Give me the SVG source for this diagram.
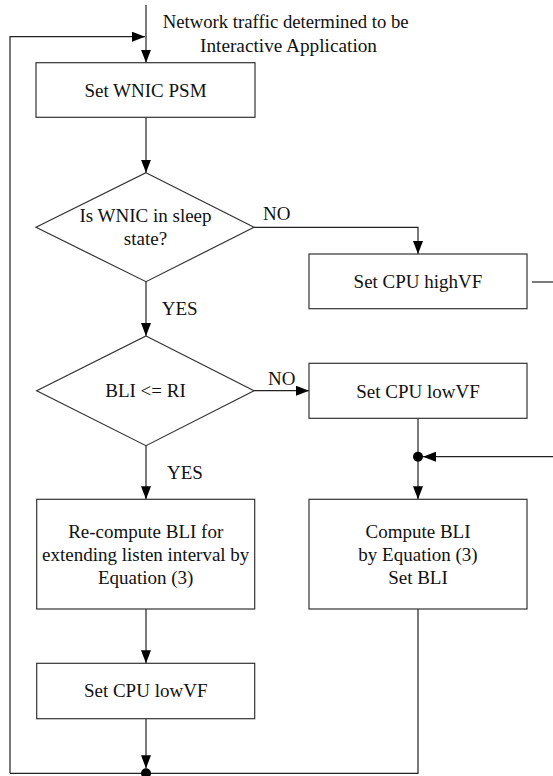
<svg xmlns="http://www.w3.org/2000/svg" width="553" height="776" viewBox="0 0 553 776">
<style>
.box{fill:#fff;stroke:#333;stroke-width:1.2}
.ln{fill:none;stroke:#222;stroke-width:1.2}
.t{font-family:"Liberation Serif","Times New Roman",serif;font-size:19px;fill:#111;text-anchor:middle}
.lbl{font-family:"Liberation Serif","Times New Roman",serif;font-size:19px;fill:#111}
.top{font-family:"Liberation Serif","Times New Roman",serif;font-size:19.5px;fill:#111}
.dot{fill:#000}
</style>
<defs>
<marker id="arr" markerUnits="userSpaceOnUse" markerWidth="13" markerHeight="10" refX="13" refY="5" orient="auto">
<path d="M0,0 L13,5 L0,10 z" fill="#000"/>
</marker>
</defs>
<g id="connectors">
<line class="ln" x1="146" y1="5" x2="146" y2="62.7" marker-end="url(#arr)"/>
<polyline class="ln" points="10,773.3 10,36.7 145,36.7" marker-end="url(#arr)"/>
<line class="ln" x1="146" y1="117.3" x2="146" y2="172.7" marker-end="url(#arr)"/>
<polyline class="ln" points="254,227.3 418,227.3 418,254" marker-end="url(#arr)"/>
<line class="ln" x1="532" y1="282" x2="553" y2="282"/>
<line class="ln" x1="146" y1="281.7" x2="146" y2="336" marker-end="url(#arr)"/>
<line class="ln" x1="254" y1="390.7" x2="309" y2="390.7" marker-end="url(#arr)"/>
<line class="ln" x1="418" y1="418.3" x2="418" y2="499.3" marker-end="url(#arr)"/>
<line class="ln" x1="553" y1="456.7" x2="423" y2="456.7" marker-end="url(#arr)"/>
<circle class="dot" cx="418" cy="456.7" r="5"/>
<line class="ln" x1="146" y1="445.7" x2="146" y2="499.3" marker-end="url(#arr)"/>
<line class="ln" x1="146" y1="609" x2="146" y2="663.3" marker-end="url(#arr)"/>
<line class="ln" x1="146" y1="718.7" x2="146" y2="768.3" marker-end="url(#arr)"/>
<polyline class="ln" points="418,609 418,773.3 10,773.3"/>
<circle class="dot" cx="146" cy="773.3" r="5"/>
</g>
<g id="start-label">
<text class="top" x="162.7" y="28.3" textLength="246" lengthAdjust="spacingAndGlyphs">Network traffic determined to be</text>
<text class="top" x="200" y="52.3" textLength="177" lengthAdjust="spacingAndGlyphs">Interactive Application</text>
</g>
<g id="set-wnic-psm">
<rect class="box" x="36" y="62.7" width="219" height="54.6"/>
<text class="t" x="145.5" y="96.7">Set WNIC PSM</text>
</g>
<g id="is-wnic-sleep">
<polygon class="box" points="146,172.7 254,227.3 146,281.7 36,227.3"/>
<text class="t" x="145.5" y="221.7">Is WNIC in sleep</text>
<text class="t" x="145.5" y="245">state?</text>
<text class="lbl" x="263" y="220">NO</text>
<text class="lbl" x="161.7" y="315">YES</text>
</g>
<g id="set-cpu-highvf">
<rect class="box" x="309" y="254" width="218" height="54.7"/>
<text class="t" x="418" y="288">Set CPU highVF</text>
</g>
<g id="bli-le-ri">
<polygon class="box" points="146,336 254,390.7 146,445.7 36.7,390.7"/>
<text class="t" x="145.5" y="396.7">BLI &lt;= RI</text>
<text class="lbl" x="268" y="385">NO</text>
<text class="lbl" x="167" y="479">YES</text>
</g>
<g id="set-cpu-lowvf-right">
<rect class="box" x="309" y="363.3" width="218" height="55"/>
<text class="t" x="418" y="397.7">Set CPU lowVF</text>
</g>
<g id="recompute-bli">
<rect class="box" x="36.7" y="499.3" width="218" height="109.7"/>
<text class="t" x="145.7" y="538.3">Re-compute BLI for</text>
<text class="t" x="145.7" y="561">extending listen interval by</text>
<text class="t" x="145.7" y="584">Equation (3)</text>
</g>
<g id="compute-bli">
<rect class="box" x="309" y="499.3" width="218" height="109.7"/>
<text class="t" x="418" y="538.3">Compute BLI</text>
<text class="t" x="418" y="561">by Equation (3)</text>
<text class="t" x="418" y="584">Set BLI</text>
</g>
<g id="set-cpu-lowvf-left">
<rect class="box" x="36.7" y="663.3" width="218" height="55.4"/>
<text class="t" x="145.7" y="697.3">Set CPU lowVF</text>
</g>
</svg>
